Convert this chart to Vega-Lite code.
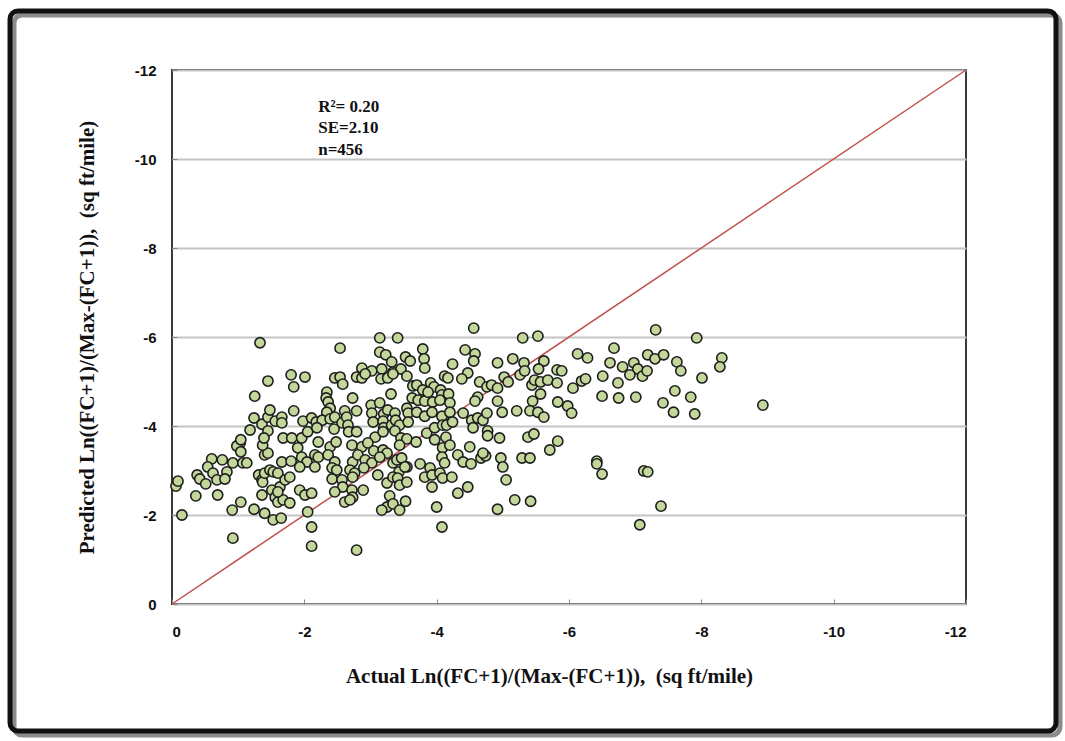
{
  "$schema": "https://vega.github.io/schema/vega-lite/v6.json",
  "width": 794,
  "height": 534,
  "autosize": "none",
  "padding": {"left": 172, "top": 70, "right": 99, "bottom": 137},
  "background": "white",
  "config": {
    "view": {"stroke": "#3a3a3a", "strokeWidth": 2},
    "axis": {"domain": false}
  },
  "datasets": {
    "pts": [
      {"actual": -0.06, "predicted": -2.65}, {"actual": -0.09, "predicted": -2.76}, {"actual": -0.15, "predicted": -2.00}, {"actual": -0.38, "predicted": -2.90},
      {"actual": -0.36, "predicted": -2.43}, {"actual": -0.42, "predicted": -2.81}, {"actual": -0.51, "predicted": -2.70}, {"actual": -0.60, "predicted": -3.26},
      {"actual": -0.54, "predicted": -3.08}, {"actual": -0.62, "predicted": -2.94}, {"actual": -0.68, "predicted": -2.79}, {"actual": -0.69, "predicted": -2.45},
      {"actual": -0.76, "predicted": -3.24}, {"actual": -0.83, "predicted": -2.97}, {"actual": -0.80, "predicted": -2.81}, {"actual": -0.92, "predicted": -3.17},
      {"actual": -1.04, "predicted": -2.29}, {"actual": -0.91, "predicted": -2.11}, {"actual": -0.92, "predicted": -1.48}, {"actual": -1.03, "predicted": -3.62},
      {"actual": -0.98, "predicted": -3.55}, {"actual": -1.04, "predicted": -3.42}, {"actual": -1.07, "predicted": -3.17}, {"actual": -1.13, "predicted": -3.17},
      {"actual": -1.24, "predicted": -2.13}, {"actual": -1.31, "predicted": -2.90}, {"actual": -1.36, "predicted": -2.79}, {"actual": -1.37, "predicted": -2.74},
      {"actual": -1.40, "predicted": -2.94}, {"actual": -1.36, "predicted": -2.45}, {"actual": -1.40, "predicted": -2.04}, {"actual": -1.53, "predicted": -1.89},
      {"actual": -1.65, "predicted": -1.93}, {"actual": -1.48, "predicted": -3.01}, {"actual": -1.53, "predicted": -2.97}, {"actual": -1.60, "predicted": -2.94},
      {"actual": -1.63, "predicted": -2.63}, {"actual": -1.71, "predicted": -2.79}, {"actual": -1.78, "predicted": -2.85}, {"actual": -1.66, "predicted": -3.19},
      {"actual": -1.80, "predicted": -3.21}, {"actual": -1.40, "predicted": -3.35}, {"actual": -1.45, "predicted": -3.39}, {"actual": -1.37, "predicted": -3.57},
      {"actual": -1.51, "predicted": -2.56}, {"actual": -1.56, "predicted": -2.40}, {"actual": -1.60, "predicted": -2.29}, {"actual": -1.68, "predicted": -2.34},
      {"actual": -1.78, "predicted": -2.27}, {"actual": -1.60, "predicted": -2.52}, {"actual": -1.93, "predicted": -2.56}, {"actual": -2.01, "predicted": -2.45},
      {"actual": -2.11, "predicted": -2.49}, {"actual": -1.90, "predicted": -3.51}, {"actual": -1.96, "predicted": -3.30}, {"actual": -2.04, "predicted": -3.19},
      {"actual": -1.93, "predicted": -3.08}, {"actual": -2.05, "predicted": -2.07}, {"actual": -2.11, "predicted": -1.73}, {"actual": -2.11, "predicted": -1.30},
      {"actual": -1.33, "predicted": -5.87}, {"actual": -1.45, "predicted": -5.01}, {"actual": -1.25, "predicted": -4.67}, {"actual": -1.80, "predicted": -5.15},
      {"actual": -2.01, "predicted": -5.10}, {"actual": -1.84, "predicted": -4.88}, {"actual": -1.84, "predicted": -4.34}, {"actual": -1.24, "predicted": -4.18},
      {"actual": -1.36, "predicted": -4.04}, {"actual": -1.45, "predicted": -4.20}, {"actual": -1.48, "predicted": -4.36}, {"actual": -1.56, "predicted": -4.11},
      {"actual": -1.66, "predicted": -4.20}, {"actual": -1.66, "predicted": -4.07}, {"actual": -1.18, "predicted": -3.91}, {"actual": -1.04, "predicted": -3.69},
      {"actual": -1.45, "predicted": -3.89}, {"actual": -1.39, "predicted": -3.73}, {"actual": -1.68, "predicted": -3.73}, {"actual": -1.81, "predicted": -3.73},
      {"actual": -1.96, "predicted": -3.73}, {"actual": -1.98, "predicted": -4.11}, {"actual": -2.11, "predicted": -4.18}, {"actual": -2.05, "predicted": -3.87},
      {"actual": -2.54, "predicted": -5.75}, {"actual": -3.14, "predicted": -5.98}, {"actual": -3.41, "predicted": -5.98}, {"actual": -3.79, "predicted": -5.73},
      {"actual": -3.81, "predicted": -5.51}, {"actual": -3.82, "predicted": -5.30}, {"actual": -3.14, "predicted": -5.66}, {"actual": -3.23, "predicted": -5.60},
      {"actual": -3.32, "predicted": -5.44}, {"actual": -3.53, "predicted": -5.55}, {"actual": -3.60, "predicted": -5.46}, {"actual": -4.24, "predicted": -5.39},
      {"actual": -2.87, "predicted": -5.30}, {"actual": -3.02, "predicted": -5.24}, {"actual": -3.17, "predicted": -5.28}, {"actual": -3.34, "predicted": -5.21},
      {"actual": -3.46, "predicted": -5.28}, {"actual": -3.55, "predicted": -5.12}, {"actual": -2.79, "predicted": -5.10}, {"actual": -2.87, "predicted": -5.08},
      {"actual": -2.92, "predicted": -5.17}, {"actual": -3.16, "predicted": -5.06}, {"actual": -3.26, "predicted": -5.08}, {"actual": -3.34, "predicted": -5.17},
      {"actual": -2.46, "predicted": -5.08}, {"actual": -2.54, "predicted": -5.10}, {"actual": -2.58, "predicted": -4.94}, {"actual": -3.64, "predicted": -4.90},
      {"actual": -3.70, "predicted": -4.92}, {"actual": -3.79, "predicted": -4.81}, {"actual": -3.91, "predicted": -4.97}, {"actual": -3.96, "predicted": -4.88},
      {"actual": -4.12, "predicted": -5.12}, {"actual": -4.17, "predicted": -5.08}, {"actual": -4.06, "predicted": -4.81}, {"actual": -4.08, "predicted": -4.70},
      {"actual": -4.18, "predicted": -4.72}, {"actual": -2.34, "predicted": -4.76}, {"actual": -2.33, "predicted": -4.63}, {"actual": -2.36, "predicted": -4.54},
      {"actual": -2.73, "predicted": -4.63}, {"actual": -3.31, "predicted": -4.72}, {"actual": -3.63, "predicted": -4.63}, {"actual": -3.72, "predicted": -4.58},
      {"actual": -3.82, "predicted": -4.56}, {"actual": -3.87, "predicted": -4.76}, {"actual": -3.94, "predicted": -4.54}, {"actual": -4.05, "predicted": -4.58},
      {"actual": -4.20, "predicted": -4.52}, {"actual": -2.39, "predicted": -4.40}, {"actual": -2.34, "predicted": -4.31}, {"actual": -2.61, "predicted": -4.34},
      {"actual": -2.79, "predicted": -4.34}, {"actual": -3.01, "predicted": -4.47}, {"actual": -3.02, "predicted": -4.29}, {"actual": -3.14, "predicted": -4.52},
      {"actual": -3.20, "predicted": -4.27}, {"actual": -3.26, "predicted": -4.36}, {"actual": -3.37, "predicted": -4.29}, {"actual": -3.55, "predicted": -4.40},
      {"actual": -3.57, "predicted": -4.29}, {"actual": -3.70, "predicted": -4.31}, {"actual": -3.82, "predicted": -4.22}, {"actual": -3.93, "predicted": -4.31},
      {"actual": -4.08, "predicted": -4.22}, {"actual": -4.20, "predicted": -4.31}, {"actual": -2.18, "predicted": -4.09}, {"actual": -2.27, "predicted": -4.13},
      {"actual": -2.39, "predicted": -4.16}, {"actual": -2.46, "predicted": -4.20}, {"actual": -2.57, "predicted": -4.07}, {"actual": -2.64, "predicted": -4.20},
      {"actual": -2.66, "predicted": -4.02}, {"actual": -3.04, "predicted": -4.09}, {"actual": -3.19, "predicted": -4.11}, {"actual": -3.20, "predicted": -3.96},
      {"actual": -3.32, "predicted": -4.02}, {"actual": -3.38, "predicted": -4.13}, {"actual": -3.44, "predicted": -4.02}, {"actual": -3.57, "predicted": -4.09},
      {"actual": -3.85, "predicted": -3.84}, {"actual": -3.97, "predicted": -3.96}, {"actual": -4.09, "predicted": -4.02}, {"actual": -4.15, "predicted": -4.02},
      {"actual": -4.24, "predicted": -4.09}, {"actual": -2.19, "predicted": -3.96}, {"actual": -2.45, "predicted": -3.93}, {"actual": -2.67, "predicted": -3.87},
      {"actual": -2.79, "predicted": -3.87}, {"actual": -3.07, "predicted": -3.75}, {"actual": -3.19, "predicted": -3.87}, {"actual": -3.37, "predicted": -3.89},
      {"actual": -3.46, "predicted": -3.73}, {"actual": -3.55, "predicted": -3.71}, {"actual": -3.97, "predicted": -3.69}, {"actual": -4.14, "predicted": -3.75},
      {"actual": -2.21, "predicted": -3.64}, {"actual": -2.39, "predicted": -3.53}, {"actual": -2.48, "predicted": -3.64}, {"actual": -2.72, "predicted": -3.57},
      {"actual": -2.87, "predicted": -3.53}, {"actual": -2.96, "predicted": -3.62}, {"actual": -3.05, "predicted": -3.44}, {"actual": -3.19, "predicted": -3.46},
      {"actual": -3.25, "predicted": -3.39}, {"actual": -3.44, "predicted": -3.57}, {"actual": -3.69, "predicted": -3.64}, {"actual": -4.09, "predicted": -3.51},
      {"actual": -4.20, "predicted": -3.57}, {"actual": -2.16, "predicted": -3.35}, {"actual": -2.21, "predicted": -3.30}, {"actual": -2.36, "predicted": -3.35},
      {"actual": -2.46, "predicted": -3.19}, {"actual": -2.73, "predicted": -3.19}, {"actual": -2.81, "predicted": -3.35}, {"actual": -2.92, "predicted": -3.24},
      {"actual": -3.02, "predicted": -3.17}, {"actual": -3.14, "predicted": -3.30}, {"actual": -3.34, "predicted": -3.17}, {"actual": -3.40, "predicted": -3.24},
      {"actual": -3.47, "predicted": -3.28}, {"actual": -3.55, "predicted": -3.08}, {"actual": -3.75, "predicted": -3.15}, {"actual": -4.08, "predicted": -3.30},
      {"actual": -4.12, "predicted": -3.17}, {"actual": -4.32, "predicted": -3.35}, {"actual": -2.16, "predicted": -3.08}, {"actual": -2.42, "predicted": -3.06},
      {"actual": -2.49, "predicted": -3.01}, {"actual": -2.69, "predicted": -3.01}, {"actual": -2.76, "predicted": -2.94}, {"actual": -2.90, "predicted": -3.06},
      {"actual": -3.11, "predicted": -2.90}, {"actual": -3.43, "predicted": -2.97}, {"actual": -3.52, "predicted": -3.08}, {"actual": -3.90, "predicted": -3.06},
      {"actual": -3.82, "predicted": -2.85}, {"actual": -3.93, "predicted": -2.90}, {"actual": -4.05, "predicted": -2.94}, {"actual": -4.09, "predicted": -2.83},
      {"actual": -4.23, "predicted": -2.85}, {"actual": -2.42, "predicted": -2.81}, {"actual": -2.57, "predicted": -2.79}, {"actual": -2.58, "predicted": -2.63},
      {"actual": -2.73, "predicted": -2.85}, {"actual": -2.72, "predicted": -2.56}, {"actual": -2.89, "predicted": -2.56}, {"actual": -3.25, "predicted": -2.72},
      {"actual": -3.34, "predicted": -2.85}, {"actual": -3.41, "predicted": -2.83}, {"actual": -3.44, "predicted": -2.67}, {"actual": -3.55, "predicted": -2.74},
      {"actual": -3.93, "predicted": -2.63}, {"actual": -2.46, "predicted": -2.52}, {"actual": -2.73, "predicted": -2.40}, {"actual": -3.29, "predicted": -2.43},
      {"actual": -4.32, "predicted": -2.49}, {"actual": -2.61, "predicted": -2.29}, {"actual": -2.69, "predicted": -2.34}, {"actual": -3.25, "predicted": -2.18},
      {"actual": -3.34, "predicted": -2.25}, {"actual": -3.17, "predicted": -2.11}, {"actual": -3.44, "predicted": -2.11}, {"actual": -3.53, "predicted": -2.31},
      {"actual": -4.00, "predicted": -2.18}, {"actual": -4.08, "predicted": -1.73}, {"actual": -2.79, "predicted": -1.21},
      {"actual": -4.56, "predicted": -6.20}, {"actual": -5.30, "predicted": -5.98}, {"actual": -5.53, "predicted": -6.02}, {"actual": -4.43, "predicted": -5.71},
      {"actual": -4.58, "predicted": -5.62}, {"actual": -4.56, "predicted": -5.46}, {"actual": -4.92, "predicted": -5.42}, {"actual": -5.15, "predicted": -5.51},
      {"actual": -5.32, "predicted": -5.42}, {"actual": -5.62, "predicted": -5.46}, {"actual": -5.54, "predicted": -5.28}, {"actual": -6.13, "predicted": -5.62},
      {"actual": -6.28, "predicted": -5.53}, {"actual": -5.82, "predicted": -5.26}, {"actual": -5.89, "predicted": -5.24}, {"actual": -4.47, "predicted": -5.19},
      {"actual": -4.38, "predicted": -5.06}, {"actual": -4.65, "predicted": -4.99}, {"actual": -4.76, "predicted": -4.88}, {"actual": -4.83, "predicted": -4.92},
      {"actual": -4.92, "predicted": -4.85}, {"actual": -5.02, "predicted": -5.10}, {"actual": -5.08, "predicted": -4.99}, {"actual": -5.26, "predicted": -5.15},
      {"actual": -5.33, "predicted": -5.24}, {"actual": -5.44, "predicted": -4.92}, {"actual": -5.48, "predicted": -5.03}, {"actual": -5.57, "predicted": -4.99},
      {"actual": -5.68, "predicted": -5.03}, {"actual": -5.82, "predicted": -4.97}, {"actual": -6.06, "predicted": -4.85}, {"actual": -6.19, "predicted": -5.01},
      {"actual": -6.25, "predicted": -5.06}, {"actual": -6.51, "predicted": -5.12}, {"actual": -6.50, "predicted": -4.67}, {"actual": -4.62, "predicted": -4.65},
      {"actual": -4.58, "predicted": -4.56}, {"actual": -4.92, "predicted": -4.56}, {"actual": -5.45, "predicted": -4.56}, {"actual": -5.57, "predicted": -4.72},
      {"actual": -5.83, "predicted": -4.54}, {"actual": -5.98, "predicted": -4.45}, {"actual": -6.04, "predicted": -4.29}, {"actual": -4.40, "predicted": -4.29},
      {"actual": -4.53, "predicted": -4.13}, {"actual": -4.62, "predicted": -4.18}, {"actual": -4.70, "predicted": -4.13}, {"actual": -4.76, "predicted": -4.29},
      {"actual": -4.99, "predicted": -4.31}, {"actual": -5.21, "predicted": -4.34}, {"actual": -5.41, "predicted": -4.34}, {"actual": -5.53, "predicted": -4.31},
      {"actual": -5.62, "predicted": -4.20}, {"actual": -4.55, "predicted": -3.96}, {"actual": -4.77, "predicted": -3.89}, {"actual": -4.77, "predicted": -3.78},
      {"actual": -4.95, "predicted": -3.73}, {"actual": -5.38, "predicted": -3.75}, {"actual": -5.47, "predicted": -3.82}, {"actual": -5.83, "predicted": -3.66},
      {"actual": -4.50, "predicted": -3.53}, {"actual": -4.40, "predicted": -3.19}, {"actual": -4.52, "predicted": -3.15}, {"actual": -4.67, "predicted": -3.28},
      {"actual": -4.74, "predicted": -3.33}, {"actual": -4.70, "predicted": -3.39}, {"actual": -4.97, "predicted": -3.28}, {"actual": -5.00, "predicted": -3.08},
      {"actual": -5.29, "predicted": -3.28}, {"actual": -5.41, "predicted": -3.28}, {"actual": -5.71, "predicted": -3.46}, {"actual": -5.05, "predicted": -2.79},
      {"actual": -4.47, "predicted": -2.63}, {"actual": -5.18, "predicted": -2.34}, {"actual": -5.42, "predicted": -2.31}, {"actual": -4.92, "predicted": -2.13},
      {"actual": -6.42, "predicted": -3.21}, {"actual": -6.42, "predicted": -3.15}, {"actual": -6.50, "predicted": -2.92},
      {"actual": -7.31, "predicted": -6.16}, {"actual": -7.93, "predicted": -5.98}, {"actual": -6.68, "predicted": -5.75}, {"actual": -6.62, "predicted": -5.42},
      {"actual": -6.81, "predicted": -5.33}, {"actual": -6.98, "predicted": -5.42}, {"actual": -7.04, "predicted": -5.28}, {"actual": -6.92, "predicted": -5.15},
      {"actual": -7.11, "predicted": -5.12}, {"actual": -7.18, "predicted": -5.24}, {"actual": -7.19, "predicted": -5.60}, {"actual": -7.30, "predicted": -5.51},
      {"actual": -7.43, "predicted": -5.60}, {"actual": -7.63, "predicted": -5.44}, {"actual": -7.69, "predicted": -5.24}, {"actual": -8.31, "predicted": -5.53},
      {"actual": -8.28, "predicted": -5.33}, {"actual": -8.01, "predicted": -5.08}, {"actual": -6.74, "predicted": -4.97}, {"actual": -6.75, "predicted": -4.63},
      {"actual": -7.01, "predicted": -4.65}, {"actual": -7.60, "predicted": -4.79}, {"actual": -7.84, "predicted": -4.65}, {"actual": -7.42, "predicted": -4.52},
      {"actual": -7.58, "predicted": -4.31}, {"actual": -7.90, "predicted": -4.27}, {"actual": -8.93, "predicted": -4.47}, {"actual": -7.13, "predicted": -2.99},
      {"actual": -7.19, "predicted": -2.97}, {"actual": -7.39, "predicted": -2.20}, {"actual": -7.07, "predicted": -1.78}
    ],
    "diag": [{"actual": 0, "predicted": 0}, {"actual": -12, "predicted": -12}],
    "one": [{"note": "frame"}]
  },
  "layer": [
    {
      "data": {"name": "one"},
      "mark": {"type": "rect", "filled": false, "stroke": "#8c8c8c", "strokeWidth": 5, "cornerRadius": 8},
      "encoding": {
        "x": {"datum": 2.388, "type": "quantitative", "scale": {"domain": [0, -12], "nice": false, "zero": false}, "title": "Actual Ln((FC+1)/(Max-(FC+1)), \u00a0(sq ft/mile)"},
        "x2": {"datum": -13.421},
        "y": {"datum": -13.236, "type": "quantitative", "scale": {"domain": [0, -12], "nice": false, "zero": false}, "title": "Predicted Ln((FC+1)/(Max-(FC+1)), \u00a0(sq ft/mile)"},
        "y2": {"datum": 2.944}
      }
    },
    {
      "data": {"name": "one"},
      "mark": {"type": "rect", "filled": false, "stroke": "#111111", "strokeWidth": 5, "cornerRadius": 8},
      "encoding": {
        "x": {"datum": 2.448, "type": "quantitative", "scale": {"domain": [0, -12], "nice": false, "zero": false}, "title": "Actual Ln((FC+1)/(Max-(FC+1)), \u00a0(sq ft/mile)"},
        "x2": {"datum": -13.36},
        "y": {"datum": -13.326, "type": "quantitative", "scale": {"domain": [0, -12], "nice": false, "zero": false}, "title": "Predicted Ln((FC+1)/(Max-(FC+1)), \u00a0(sq ft/mile)"},
        "y2": {"datum": 2.854}
      }
    },
    {
      "data": {"name": "diag"},
      "mark": {"type": "line", "color": "#c0504d", "strokeWidth": 1.5},
      "encoding": {
        "x": {"field": "actual", "type": "quantitative", "scale": {"domain": [0, -12], "nice": false, "zero": false}, "title": "Actual Ln((FC+1)/(Max-(FC+1)), \u00a0(sq ft/mile)"},
        "y": {"field": "predicted", "type": "quantitative", "scale": {"domain": [0, -12], "nice": false, "zero": false}, "title": "Predicted Ln((FC+1)/(Max-(FC+1)), \u00a0(sq ft/mile)"}
      }
    },
    {
      "data": {"name": "pts"},
      "mark": {"type": "point", "shape": "circle", "filled": true, "fill": "#c4d79b", "stroke": "#1e1e1e", "strokeWidth": 1.6, "size": 105, "opacity": 1},
      "encoding": {
        "x": {
          "field": "actual", "type": "quantitative",
          "scale": {"domain": [0, -12], "nice": false, "zero": false},
          "title": "Actual Ln((FC+1)/(Max-(FC+1)), \u00a0(sq ft/mile)",
          "axis": {
            "values": [0, -2, -4, -6, -8, -10, -12],
            "labelExpr": "'' + datum.value",
            "grid": false,
            "ticks": true, "tickSize": -5, "tickColor": "#888888", "tickWidth": 1,
            "labelFont": "Liberation Sans", "labelFontWeight": "bold", "labelFontSize": 15, "labelColor": "#111111",
            "labelPadding": 25,
            "titleFont": "Liberation Serif", "titleFontWeight": "bold", "titleFontSize": 21, "titleColor": "#111111",
            "titleX": 377, "titleY": 72, "titleBaseline": "middle", "titleAlign": "center"
          }
        },
        "y": {
          "field": "predicted", "type": "quantitative",
          "scale": {"domain": [0, -12], "nice": false, "zero": false},
          "title": "Predicted Ln((FC+1)/(Max-(FC+1)), \u00a0(sq ft/mile)",
          "axis": {
            "values": [0, -2, -4, -6, -8, -10, -12],
            "labelExpr": "'' + datum.value",
            "grid": true, "gridColor": "#c4c4c4", "gridWidth": 1.8,
            "ticks": true, "tickSize": -5, "tickColor": "#888888", "tickWidth": 1,
            "labelFont": "Liberation Sans", "labelFontWeight": "bold", "labelFontSize": 15, "labelColor": "#111111",
            "labelPadding": 21,
            "titleFont": "Liberation Serif", "titleFontWeight": "bold", "titleFontSize": 21, "titleColor": "#111111",
            "titleX": -85, "titleY": 267, "titleAngle": -90, "titleBaseline": "middle", "titleAlign": "center"
          }
        }
      }
    },
    {
      "data": {"name": "one"},
      "mark": {"type": "text", "text": "R²= 0.20", "align": "left", "baseline": "middle", "font": "Liberation Serif", "fontWeight": "bold", "fontSize": 17, "color": "#111111"},
      "encoding": {
        "x": {"datum": -2.21, "type": "quantitative", "scale": {"domain": [0, -12], "nice": false, "zero": false}, "title": "Actual Ln((FC+1)/(Max-(FC+1)), \u00a0(sq ft/mile)"},
        "y": {"datum": -11.17, "type": "quantitative", "scale": {"domain": [0, -12], "nice": false, "zero": false}, "title": "Predicted Ln((FC+1)/(Max-(FC+1)), \u00a0(sq ft/mile)"}
      }
    },
    {
      "data": {"name": "one"},
      "mark": {"type": "text", "text": "SE=2.10", "align": "left", "baseline": "middle", "font": "Liberation Serif", "fontWeight": "bold", "fontSize": 17, "color": "#111111"},
      "encoding": {
        "x": {"datum": -2.21, "type": "quantitative", "scale": {"domain": [0, -12], "nice": false, "zero": false}, "title": "Actual Ln((FC+1)/(Max-(FC+1)), \u00a0(sq ft/mile)"},
        "y": {"datum": -10.7, "type": "quantitative", "scale": {"domain": [0, -12], "nice": false, "zero": false}, "title": "Predicted Ln((FC+1)/(Max-(FC+1)), \u00a0(sq ft/mile)"}
      }
    },
    {
      "data": {"name": "one"},
      "mark": {"type": "text", "text": "n=456", "align": "left", "baseline": "middle", "font": "Liberation Serif", "fontWeight": "bold", "fontSize": 17, "color": "#111111"},
      "encoding": {
        "x": {"datum": -2.21, "type": "quantitative", "scale": {"domain": [0, -12], "nice": false, "zero": false}, "title": "Actual Ln((FC+1)/(Max-(FC+1)), \u00a0(sq ft/mile)"},
        "y": {"datum": -10.2, "type": "quantitative", "scale": {"domain": [0, -12], "nice": false, "zero": false}, "title": "Predicted Ln((FC+1)/(Max-(FC+1)), \u00a0(sq ft/mile)"}
      }
    }
  ]
}
